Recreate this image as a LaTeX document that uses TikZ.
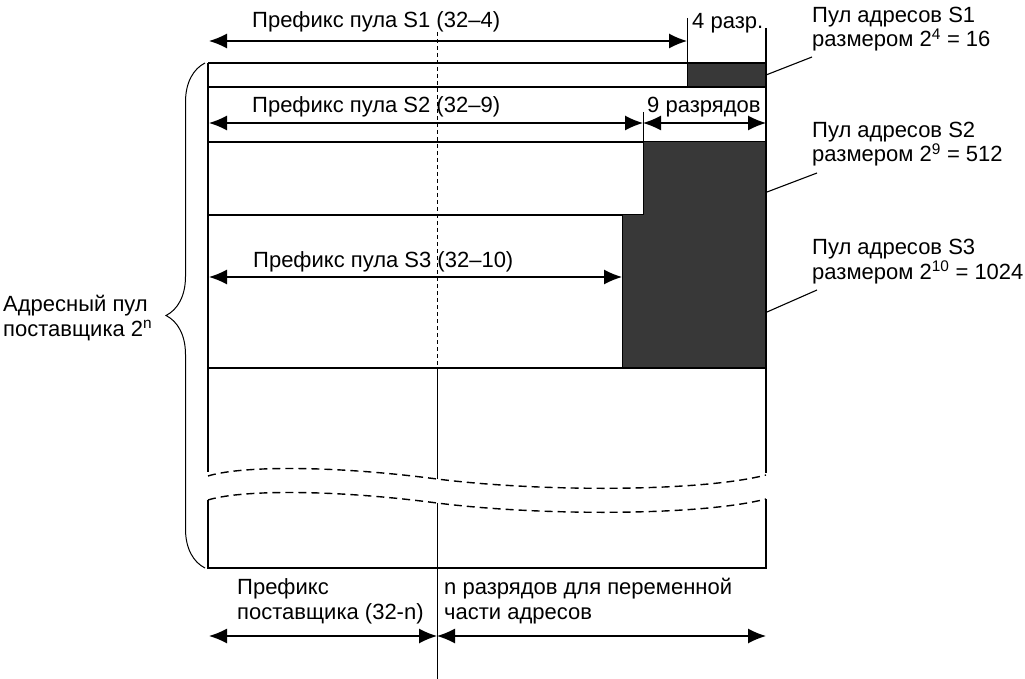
\documentclass[tikz,border=0pt]{standalone}
\usepackage{fontspec}
\setmainfont{Liberation Sans}
\usetikzlibrary{positioning,arrows.meta,decorations.pathreplacing}

\tikzset{
	lbl/.style={font=\fontsize{22}{24.5}\selectfont, inner sep=0pt, align=left},
	frame/.style={line width=1.5pt},
	pool/.style={fill=black!78, draw=black, line width=1pt},
	dimline/.style={line width=1.2pt, {Latex[length=18pt,width=15pt]}-{Latex[length=18pt,width=15pt]}},
	tick/.style={line width=1pt},
	wave/.style={line width=1.4pt, dash pattern=on 8pt off 5pt},
	midline/.style={line width=1pt},
	leader/.style={line width=1.1pt},
}

\begin{document}
\begin{tikzpicture}[x=1pt,y=-1pt]
	\useasboundingbox (0,0) rectangle (1025,679);

	%% FRAME of the provider pool
	\coordinate (tl) at (208,63);
	\coordinate (tr) at (766,63);
	\coordinate (r1_l) at (208,87);
	\coordinate (r1_r) at (766,87);
	\coordinate (r2_l) at (208,142);
	\coordinate (r2_r) at (643,142);
	\coordinate (r3_l) at (208,215);
	\coordinate (r3_r) at (622,215);
	\coordinate (r4_l) at (208,368);
	\coordinate (r4_r) at (766,368);
	\coordinate (bl) at (208,568);
	\coordinate (br) at (766,568);

	% shaded pools
	\draw[pool] (687,63) rectangle (r1_r);
	\draw[pool] (r2_r) -- (766,142) -- (r4_r) -- (622,368) -- (r3_r) -- (643,215) -- cycle;

	\draw[frame] (tl) -- (tr);
	\draw[frame] (r1_l) -- (r1_r);
	\draw[frame] (r2_l) -- (r2_r);
	\draw[frame] (r3_l) -- (r3_r);
	\draw[frame] (r4_l) -- (r4_r);
	\draw[frame] (tl) -- (208,472);
	\draw[frame] (766,28) -- (766,473);
	\draw[frame] (208,500) -- (bl) -- (br) -- (766,499);

	% break
	\draw[wave] (208,476) .. controls (240,466) and (330,465) .. (437,479) .. controls (540,492) and (700,492) .. (766,475);
	\draw[wave] (208,500) .. controls (240,490) and (330,489) .. (437,503) .. controls (540,516) and (700,516) .. (766,499);

	%% PREFIX / HOST border
	\coordinate (mid_top) at (437,32);
	\coordinate (mid_r4) at (437,368);
	\coordinate (mid_w1) at (437,479);
	\coordinate (mid_w2) at (437,503);
	\coordinate (mid_bot) at (437,679);
	\draw[midline, dash pattern=on 4pt off 3pt] (mid_top) -- (mid_r4);
	\draw[midline] (mid_r4) -- (mid_w1);
	\draw[midline] (mid_w2) -- (mid_bot);

	%% POOL S1
	\coordinate (s1_tick) at (687,18);
	\coordinate (s1_l) at (209,41);
	\coordinate (s1_r) at (687,41);
	\draw[tick] (s1_tick) -- (687,63);
	\draw[dimline] (s1_l) -- (s1_r);
	\node[lbl, anchor=base west](pfx_s1) at (252,28){Префикс пула S1 (32–4)};
	\node[lbl, anchor=base west](bits_s1) at (692,29){4 разр.};

	%% POOL S2
	\coordinate (s2_tick) at (643,112);
	\coordinate (s2_l) at (209,123);
	\coordinate (s2_m) at (643,123);
	\coordinate (s2_r) at (766,123);
	\draw[tick] (s2_tick) -- (r2_r);
	\draw[dimline] (s2_l) -- (s2_m);
	\draw[dimline] (s2_m) -- (s2_r);
	\node[lbl, anchor=base west](pfx_s2) at (252,113){Префикс пула S2 (32–9)};
	\node[lbl, anchor=base west](bits_s2) at (647,113){9 разрядов};

	%% POOL S3
	\coordinate (s3_l) at (209,277);
	\coordinate (s3_r) at (622,277);
	\draw[dimline] (s3_l) -- (s3_r);
	\node[lbl, anchor=base west](pfx_s3) at (253,267){Префикс пула S3 (32–10)};

	%% POOL CAPTIONS (base = second line)
	\node[lbl, anchor=base west](pool_s1) at (812,47){Пул адресов S1\\размером 2\textsuperscript{4} = 16};
	\node[lbl, anchor=base west](pool_s2) at (812,162){Пул адресов S2\\размером 2\textsuperscript{9} = 512};
	\node[lbl, anchor=base west](pool_s3) at (812,279){Пул адресов S3\\размером 2\textsuperscript{10} = 1024};

	\coordinate (s1_pt) at (766,75);
	\coordinate (s2_pt) at (767,192);
	\coordinate (s3_pt) at (767,312);
	\coordinate (s1_end) at (812,57);
	\coordinate (s2_end) at (817,173);
	\coordinate (s3_end) at (817,290);
	\draw[leader] (s1_pt) -- (s1_end);
	\draw[leader] (s2_pt) -- (s2_end);
	\draw[leader] (s3_pt) -- (s3_end);

	%% PROVIDER POOL
	\draw[line width=1pt, decorate, decoration={brace, amplitude=39pt}] (205,568) -- (205,63);
	\node[lbl, anchor=base west](prov) at (3,336){Адресный пул\\поставщика 2\textsuperscript{n}};

	%% BOTTOM split
	\coordinate (b_l) at (209,636);
	\coordinate (b_m) at (437,636);
	\coordinate (b_r) at (766,636);
	\draw[dimline] (b_l) -- (b_m);
	\draw[dimline] (b_m) -- (b_r);
	\node[lbl, anchor=base west](pfx_prov) at (237,619){Префикс\\поставщика (32-n)};
	\node[lbl, anchor=base west](host_bits) at (444,619){n разрядов для переменной\\части адресов};

\end{tikzpicture}
\end{document}
